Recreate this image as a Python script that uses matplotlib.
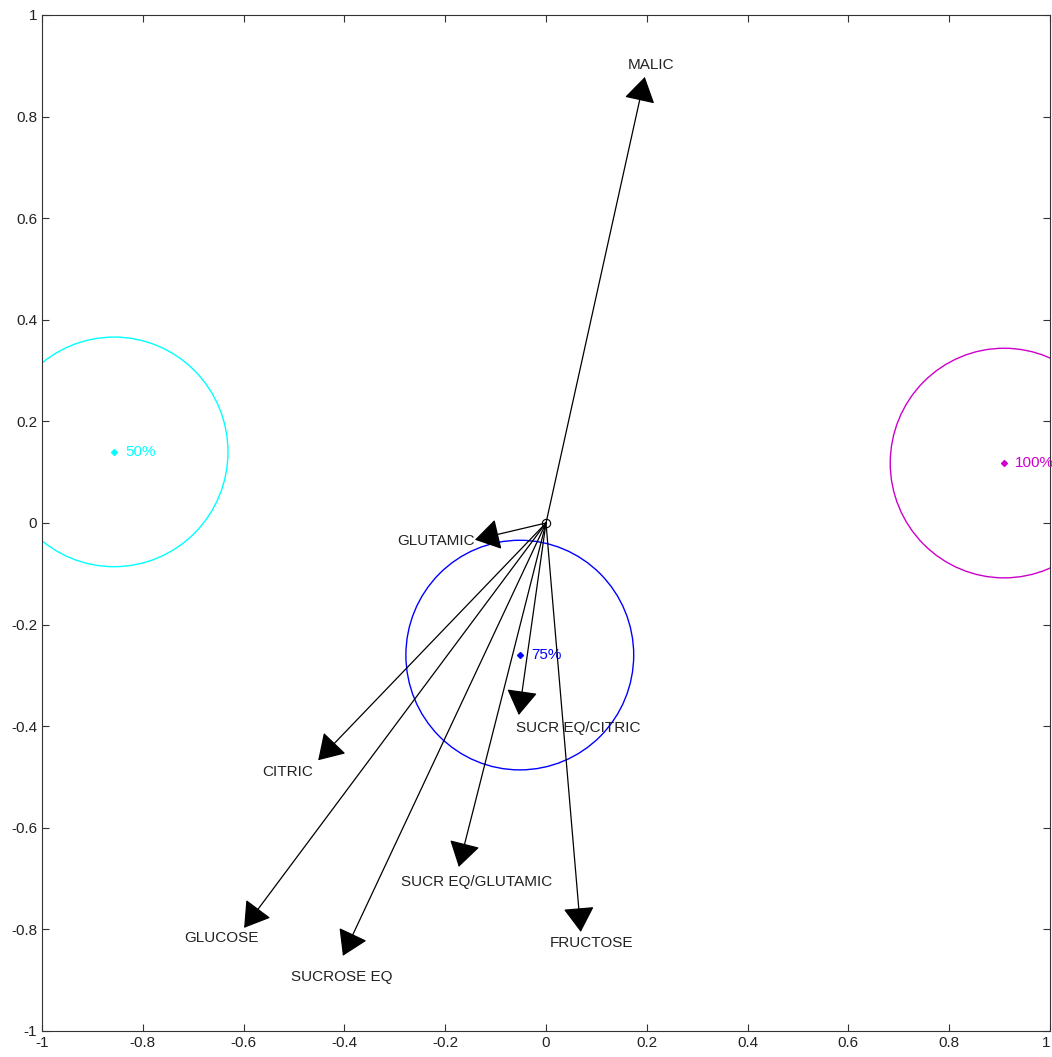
import numpy as np
import matplotlib
matplotlib.use("Agg")
import matplotlib.pyplot as plt
from matplotlib.patches import Circle

plt.rcParams['font.family'] = ['Liberation Sans', 'DejaVu Sans']

# variable vectors (arrow tips)
names = ["MALIC", "GLUTAMIC", "SUCR EQ/CITRIC", "CITRIC", "GLUCOSE",
         "SUCROSE EQ", "SUCR EQ/GLUTAMIC", "FRUCTOSE"]
vec_x = [0.196, -0.141, -0.054, -0.452, -0.599, -0.403, -0.173, 0.069]
vec_y = [0.878, -0.033, -0.378, -0.467, -0.797, -0.852, -0.677, -0.805]

# clusters
clus_names = ["50%", "75%", "100%"]
clus_x = [-0.857, -0.052, 0.909]
clus_y = [0.140, -0.260, 0.118]
clus_r = [0.226, 0.226, 0.226]
clus_col = ["#00ffff", "#0000ff", "#cc00cc"]

ticks = np.round(np.arange(-1, 1.01, 0.2), 1)
tick_lbls = ["-1", "-0.8", "-0.6", "-0.4", "-0.2", "0", "0.2", "0.4", "0.6", "0.8", "1"]

# label offsets in pixels from arrow tip + alignment
lbl_off = [(6, 12, 'center'), (0, -1, 'right'), (-3, -13, 'left'), (-5, -12, 'right'),
           (-23, -10, 'center'), (-1, -21, 'center'), (-58, -15, 'left'), (11, -11, 'center')]

fig = plt.figure(figsize=(10.52, 10.57), dpi=100)
ax = fig.add_axes([42/1052, 26/1057, 1008/1052, 1016/1057])

for cx, cy, r, c, n in zip(clus_x, clus_y, clus_r, clus_col, clus_names):
    ax.add_patch(Circle((cx, cy), r, fill=False, ec=c, lw=1))
    ax.plot(cx, cy, marker='D', ms=3, color=c)
    ax.annotate(n, (cx, cy), xytext=(11, 0), textcoords='offset pixels',
                color=c, fontsize=11, va='center', ha='left')

for x, y, n, (dx, dy, ha) in zip(vec_x, vec_y, names, lbl_off):
    ax.annotate("", xy=(x, y), xytext=(0, 0),
                arrowprops=dict(arrowstyle='-|>,head_length=0.75,head_width=0.47',
                                mutation_scale=21, color='black', lw=0.9,
                                shrinkA=0, shrinkB=0))
    ax.annotate(n, (x, y), xytext=(dx, dy), textcoords='offset pixels',
                fontsize=11, ha=ha, va='center', color='#222222')

ax.plot(0, 0, marker='o', ms=6, mfc='none', mec='black', mew=0.8)

ax.set_xlim(-1, 1)
ax.set_ylim(-1, 1)
ax.set_xticks(ticks)
ax.set_xticklabels(tick_lbls)
ax.set_yticks(ticks)
ax.set_yticklabels(tick_lbls)
ax.tick_params(direction='in', top=True, right=True, labelsize=11, length=5,
               labelcolor='#222222', color='#333333')
ax.get_xticklabels()[-1].set_horizontalalignment('right')
for s in ax.spines.values():
    s.set_color('#333333')

fig.savefig("out.png", dpi=100)
